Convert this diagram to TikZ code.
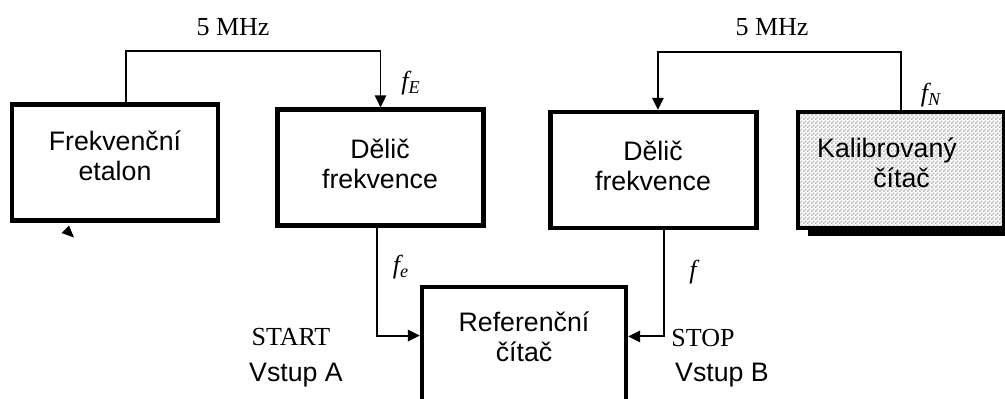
\documentclass[tikz,border=0pt]{standalone}
\usepackage{fontspec}
\setmainfont{Liberation Serif}
\setsansfont{Liberation Sans}
\usepackage{tikz}
\usetikzlibrary{arrows.meta,patterns,shadows}

% fine checker fill for the calibrated counter
\pgfdeclarepatternformonly{sachovnice}{\pgfpointorigin}{\pgfqpoint{2.9pt}{2.9pt}}{\pgfqpoint{2.9pt}{2.9pt}}{
	\pgfpathrectangle{\pgfpointorigin}{\pgfqpoint{1.45pt}{1.45pt}}
	\pgfpathrectangle{\pgfqpoint{1.45pt}{1.45pt}}{\pgfqpoint{1.45pt}{1.45pt}}
	\pgfusepath{fill}
}

\begin{document}
\begin{tikzpicture}[
	x=0.025cm, y=-0.025cm,
	blok/.style={
		draw, line width=3.3pt, minimum width=5.15cm, minimum height=2.9cm,
		inner sep=0pt, outer sep=0pt
	},
	napis/.style={font=\sffamily\fontsize{19}{21.5}\selectfont, align=center},
	znacka/.style={font=\rmfamily\fontsize{18.5}{21}\selectfont},
	spoj/.style={line width=1.4pt, shorten >=1.5pt},
	>={Triangle[length=8.5pt,width=8pt]}
]
\useasboundingbox (0,0) rectangle (1005,399);

% blocks
\node[blok] (etalon) at (115,162.5) {};
\node[blok] (delic1) at (380.5,167.5) {};
\node[blok] (delic2) at (653.5,170) {};
\node[blok,
	drop shadow={shadow xshift=0.25cm, shadow yshift=-0.2cm, fill=black, opacity=1},
	preaction={fill=white},
	preaction={pattern=sachovnice, pattern color=gray!55}
] (kal) at (901,170) {};
\node[blok, minimum width=5.1cm, minimum height=3.35cm] (ref) at (524,354) {};

% block texts
\node[napis] (etalon-t) at (115,156) {Frekvenční\\etalon};
\node[napis] (delic1-t) at (380,164) {Dělič\\frekvence};
\node[napis] (delic2-t) at (653,166) {Dělič\\frekvence};
\node[napis, align=left] (kal-t) at (887,163) {Kalibrovaný\\\hspace*{2.1em}čítač};
\node[napis] (ref-t) at (524,337) {Referenční\\čítač};

% signal paths
\draw[spoj,->] ([xshift=0.275cm]etalon.north) -- ++(0,-53) -| (delic1.north);
\draw[spoj,->] (kal.north) -- ++(0,-60) -| ([xshift=0.11cm]delic2.north);
\draw[spoj,->] ([xshift=-0.08cm]delic1.south) |- ([yshift=0.46cm]ref.west);
\draw[spoj,->] ([xshift=0.26cm]delic2.south) |- ([yshift=0.44cm]ref.east);

% signal labels
\node[znacka] (mhz1) at (233,27) {5 MHz};
\node[znacka] (mhz2) at (772,27) {5 MHz};
\node[znacka] (fE) at (411,83) {\itshape f\textsubscript{E}};
\node[znacka] (fN) at (931,95) {\itshape f\textsubscript{N}};
\node[znacka] (fe) at (401,267) {\itshape f\textsubscript{e}};
\node[znacka] (f) at (693,272) {\itshape f};
\node[znacka] (start) at (291,337) {START};
\node[napis] (vstupA) at (296,375) {Vstup A};
\node[znacka] (stop) at (703,338) {STOP};
\node[napis] (vstupB) at (722,375) {Vstup B};

% stray arrow tip under the standard
\fill (69,225.5) -- (61.5,233) -- (74,237.5) -- cycle;
\end{tikzpicture}
\end{document}
